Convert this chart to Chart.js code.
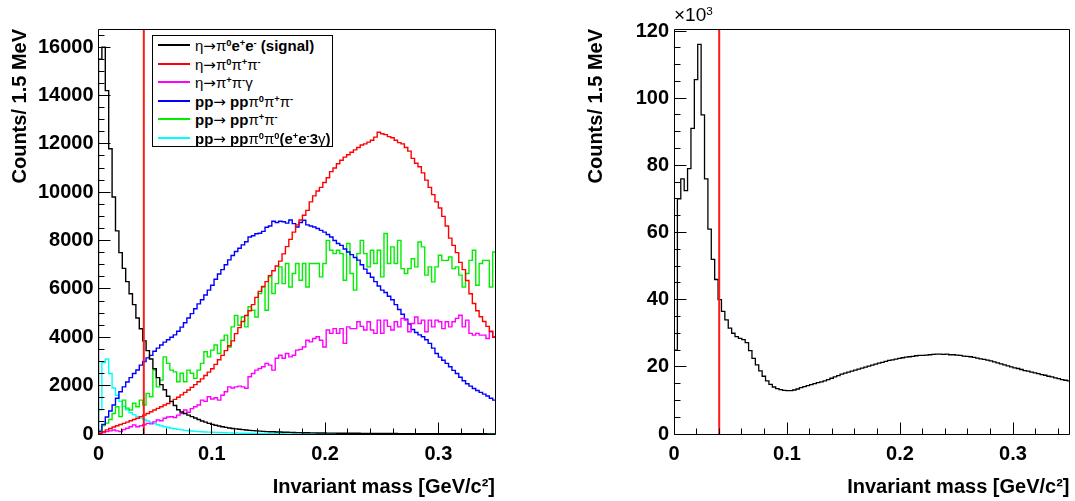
<!DOCTYPE html>
<html>
<head>
<meta charset="utf-8">
<script src="https://cdn.jsdelivr.net/npm/chart.js@4/dist/chart.umd.min.js"></script>
<style>
html,body{margin:0;padding:0;background:#fff;}
#wrap{position:relative;width:1075px;height:501px;overflow:hidden;font-family:"Liberation Sans",Arial,sans-serif;color:#000;}
canvas{position:absolute;left:0;top:0;}
#legend{position:absolute;left:152px;top:35px;width:181px;height:112px;box-sizing:border-box;border:1px solid #000;background:#fff;font-weight:bold;font-size:15px;}
.row{position:absolute;left:0;height:19px;line-height:19px;white-space:nowrap;}
.sw{position:absolute;left:5px;top:8px;width:32px;height:2px;}
.tx{position:absolute;left:42px;top:0;}
.g{font-weight:normal;}
.a{font-weight:normal;font-family:"DejaVu Sans",sans-serif;}
sup{font-size:0.62em;line-height:0;vertical-align:0.5em;}
#mult{position:absolute;left:674px;top:4px;font-size:19px;line-height:22px;}
</style>
</head>
<body>
<div id="wrap">
  <canvas id="cLeft" width="1075" height="501"></canvas>
  <canvas id="cRight" width="1075" height="501"></canvas>
  <div id="legend"></div>
  <div id="mult">×10<sup>3</sup></div>
</div>
<script>
// ---------------- data ----------------
const BIN_WIDTH = 0.003;          // GeV, histogram bin width as drawn
const CUT = 0.04;                 // GeV, red cut line
const xTickValues = [0, 0.1, 0.2, 0.3];
const yTickValuesLeft = [0, 2000, 4000, 6000, 8000, 10000, 12000, 14000, 16000];
const yTickValuesRight = [0, 20, 40, 60, 80, 100, 120];
const X_MAX = 0.35;
const Y_MAX_LEFT = 16750;
const Y_MAX_RIGHT = 120.6;

const seriesNames = [
  "η→π0e+e- (signal)", "η→π0π+π-", "η→π+π-γ",
  "pp→ ppπ0π+π-", "pp→ ppπ+π-", "pp→ ppπ0π0(e+e-3γ)"
];
const legendLabels = [
  '<span class="g">η</span><span class="a">→</span><span class="g">π</span><sup>0</sup>e<sup>+</sup>e<sup>-</sup> (signal)',
  '<span class="g">η</span><span class="a">→</span><span class="g">π</span><sup>0</sup><span class="g">π</span><sup>+</sup><span class="g">π</span><sup>-</sup>',
  '<span class="g">η</span><span class="a">→</span><span class="g">π</span><sup>+</sup><span class="g">π</span><sup>-</sup><span class="g">γ</span>',
  'pp<span class="a">→</span> pp<span class="g">π</span><sup>0</sup><span class="g">π</span><sup>+</sup><span class="g">π</span><sup>-</sup>',
  'pp<span class="a">→</span> pp<span class="g">π</span><sup>+</sup><span class="g">π</span><sup>-</sup>',
  'pp<span class="a">→</span> pp<span class="g">π</span><sup>0</sup><span class="g">π</span><sup>0</sup>(e<sup>+</sup>e<sup>-</sup>3<span class="g">γ</span>)'
];
const seriesColors = ["#000000", "#ff0000", "#ff00ff", "#0000ff", "#00ee00", "#00ffff"];

const signal = [
  15500,16000,14200,11800,9800,8400,7500,6850,6300,5800,
  5350,4800,4350,3850,3450,3100,2700,2330,2040,1830,
  1560,1350,1180,1000,910,850,780,720,660,600,
  540,490,440,400,360,330,300,275,250,230,
  210,195,180,165,150,140,130,120,110,100,
  95,90,85,80,75,70,66,62,58,55,
  52,50,48,46,44,42,40,38,36,35,
  34,33,32,31,30,29,28,27,26,25,
  24,23,22,21,20,20,19,18,17,17,
  16,16,15,15,14,14,13,13,12,12,
  12,11,11,11,10,10,10,9,9,9,
  8,8,8,8,7,7,7
];
const etaPi0PiPi = [
  30,100,170,230,290,340,390,440,490,550,
  600,650,720,780,850,920,990,1060,1130,1200,
  1260,1340,1430,1520,1620,1720,1820,1930,2040,2160,
  2280,2420,2560,2700,2880,3070,3250,3450,3650,3850,
  4150,4400,4650,4900,5100,5350,5650,5900,6100,6300,
  6550,6750,6950,7150,7450,7750,8050,8350,8650,8850,
  9050,9250,9600,9850,10050,10200,10400,10600,10850,11000,
  11180,11320,11450,11550,11650,11750,11850,11950,12000,12070,
  12150,12280,12480,12420,12380,12300,12250,12150,12050,12000,
  11850,11700,11400,11200,11050,10800,10500,10200,9900,9600,
  9350,9000,8600,8100,7800,7500,7100,6800,6350,5800,
  5400,5100,4850,4650,4450,4250,4000
];
const etaPiPiGamma = [
  20,60,100,130,165,130,100,180,235,300,
  370,300,340,380,440,420,500,580,550,650,
  700,715,680,780,850,990,900,1050,1130,1200,
  1400,1350,1540,1450,1500,1400,1600,1750,1950,1900,
  1950,1980,1950,1890,2370,2500,2640,2710,2780,2920,
  2850,2640,3130,3260,3130,3330,3190,3260,3470,3500,
  3600,3880,3810,3950,4020,3880,3600,4300,4160,4360,
  4160,4360,3750,4430,4360,4360,4640,4450,4300,4640,
  4300,4160,4710,4160,4710,4450,4300,4640,4430,4780,
  4710,4230,4570,4840,4570,4710,4230,4710,4430,4710,
  4640,4360,4640,4430,4640,4780,4910,4430,4710,4160,
  4090,4160,4090,4090,3950,4230,4020
];
const ppPi0PiPi = [
  100,400,700,950,1200,1480,1750,1950,2150,2330,
  2500,2650,2850,3000,3150,3250,3420,3550,3680,3800,
  3900,4000,4100,4250,4420,4600,4800,4980,5180,5380,
  5550,5750,5950,6150,6400,6620,6800,7000,7200,7380,
  7550,7680,7820,7950,8150,8200,8280,8300,8380,8550,
  8600,8800,8750,8800,8780,8720,8850,8700,8560,8750,
  8840,8650,8600,8560,8500,8420,8350,8250,8150,8000,
  7880,7800,7650,7530,7420,7300,7190,7000,6820,6650,
  6480,6300,6120,5950,5850,5700,5550,5350,5150,4950,
  4750,4550,4320,4200,4100,4020,3900,3750,3550,3330,
  3180,3050,2920,2780,2630,2500,2350,2200,2080,1980,
  1880,1800,1720,1650,1570,1480,1400
];
const ppPiPi = [
  150,350,450,600,850,1130,720,1400,1070,990,
  1270,1130,1400,1200,1680,1540,2640,1950,2230,3190,
  2920,2640,2570,2160,2510,2160,2640,2510,2300,2640,
  2920,3400,3190,3470,3680,3330,3880,4090,3600,4430,
  4900,4500,4840,4430,5260,5120,4840,5810,6080,5120,
  6500,5810,6220,6910,6220,7050,6080,6640,7050,6360,
  7050,6080,7050,7050,7050,6500,7050,8010,7600,7460,
  7600,7460,6360,7880,6640,5950,7460,8010,7460,6910,
  7600,7050,7600,6500,8290,7050,7740,7050,8010,6840,
  6640,6840,7250,6910,7940,7740,6570,6910,6290,6910,
  7390,7180,7180,7320,6840,6910,6570,6080,6640,7180,
  7600,6150,7050,7180,7180,6080,7530
];
const ppPi0Pi0 = [
  1000,2950,3100,2500,1900,1600,1350,1150,1000,880,
  800,730,660,600,540,480,430,380,340,300,
  270,240,215,190,170,150,135,122,110,100,
  92,85,78,72,66,60,56,52,48,44,
  40,37,34,31,28,25,22,20,18,16,
  14,12,10,9,8,7,6,5,5,4,
  4,3,3,3,2,2,2,2,1,1,
  1,1,1,1,0,0,0,0,0,0,
  0,0,0,0,0,0,0,0,0,0,
  0,0,0,0,0,0,0,0,0,0,
  0,0,0,0,0,0,0,0,0,0,
  0,0,0,0,0,0,0
];
// right panel: all events, in units of 10^3 counts
const totalK = [
  25,70,76,72.5,79,91,105.5,116,95,76,
  61,52,46,40,36.5,34,31.5,30,29,28.5,
  28.1,27.2,24.8,22.5,20.6,18.8,17.2,15.8,14.8,14.0,
  13.5,13.2,13.0,12.9,12.9,13.1,13.4,13.8,14.1,14.4,
  14.7,15.0,15.3,15.5,15.8,16.2,16.6,17.0,17.4,17.8,
  18.1,18.4,18.7,19.0,19.3,19.6,19.9,20.2,20.5,20.8,
  21.1,21.3,21.6,21.9,22.1,22.3,22.5,22.7,22.9,23.0,
  23.1,23.3,23.4,23.4,23.5,23.6,23.7,23.8,23.8,23.7,
  23.8,23.6,23.6,23.5,23.4,23.2,23.1,23.0,22.8,22.6,
  22.4,22.2,22.0,21.8,21.5,21.2,20.9,20.6,20.3,20.0,
  19.7,19.5,19.2,18.9,18.7,18.4,18.2,18.0,17.7,17.5,
  17.2,17.0,16.7,16.5,16.2,16.0,15.8
];

// ---------------- helpers ----------------
function histPoints(values) {
  const pts = [{x: 0, y: 0}];
  values.forEach((v, i) => pts.push({x: i * BIN_WIDTH, y: v}));
  pts.push({x: values.length * BIN_WIDTH, y: values[values.length - 1]});
  return pts;
}
function histDataset(label, values, color, width) {
  return {label, data: histPoints(values), borderColor: color, backgroundColor: color,
    borderWidth: width, pointRadius: 0, stepped: 'before', tension: 0, fill: false};
}
function cutDataset(yMax) {
  return {label: 'cut', data: [{x: CUT, y: 0}, {x: CUT, y: yMax}], borderColor: '#ff1a1a',
    borderWidth: 2, pointRadius: 0, fill: false};
}

const rootFrame = {
  id: 'rootFrame',
  afterDatasetsDraw(chart, args, o) {
    const {ctx, chartArea: a} = chart;
    const xs = chart.scales.x, ys = chart.scales.y;
    const L = Math.floor(a.left) + 0.5, R = Math.floor(a.right) + 0.5;
    const T = Math.floor(a.top) + 0.5, B = Math.floor(a.bottom) + 0.5;
    ctx.save();
    ctx.strokeStyle = '#000';
    ctx.lineWidth = 1;
    ctx.beginPath();
    const nY = Math.floor(ys.max / o.yMinor + 1e-6);
    for (let k = 0; k <= nY; k++) {
      const py = Math.floor(ys.getPixelForValue(k * o.yMinor)) + 0.5;
      const len = (k % o.yPer === 0) ? 12 : 6;
      ctx.moveTo(L, py); ctx.lineTo(L + len, py);
    }
    const nX = Math.floor(xs.max / o.xMinor + 1e-6);
    for (let k = 0; k <= nX; k++) {
      const px = Math.floor(xs.getPixelForValue(k * o.xMinor)) + 0.5;
      const len = (k % o.xPer === 0) ? 12 : 6;
      ctx.moveTo(px, B); ctx.lineTo(px, B - len);
    }
    ctx.rect(L, T, R - L, B - T);
    ctx.stroke();
    ctx.restore();
  }
};

Chart.defaults.font.family = '"Liberation Sans", Arial, sans-serif';
Chart.defaults.color = '#000';

const tickFont = {size: 20, weight: 'bold', lineHeight: 1.2};

function makeOptions(cfg) {
  return {
    responsive: false, animation: false, events: [], devicePixelRatio: 1,
    layout: {padding: cfg.padding},
    plugins: {legend: {display: false}, tooltip: {enabled: false},
      rootFrame: {xMinor: 0.02, xPer: 5, yMinor: cfg.yMinor, yPer: 4}},
    scales: {
      x: {
        type: 'linear', min: 0, max: X_MAX,
        afterBuildTicks: s => { s.ticks = xTickValues.map(v => ({value: v})); },
        afterFit: s => { s.height = 67; },
        grid: {display: false, drawTicks: false}, border: {display: false},
        ticks: {padding: 8, autoSkip: false, maxRotation: 0, font: tickFont, color: '#000',
          callback: v => (v === 0 ? '0' : Number(v).toFixed(1))},
        title: {display: true, text: 'Invariant mass [GeV/c²]', align: 'end', color: '#000',
          font: tickFont, padding: {top: 0, bottom: 1.5}}
      },
      y: {
        type: 'linear', min: 0, max: cfg.yMax,
        afterBuildTicks: s => { s.ticks = cfg.yTicks.map(v => ({value: v})); },
        afterFit: s => { s.width = cfg.yWidth; },
        grid: {display: false, drawTicks: false}, border: {display: false},
        ticks: {padding: 5, autoSkip: false, font: tickFont, color: '#000', callback: v => String(v)},
        title: {display: true, text: 'Counts/ 1.5 MeV', align: 'end', color: '#000',
          font: tickFont, padding: {top: cfg.titlePad, bottom: 0}}
      }
    }
  };
}

const seriesValues = [signal, etaPi0PiPi, etaPiPiGamma, ppPi0PiPi, ppPiPi, ppPi0Pi0];

new Chart(document.getElementById('cLeft'), {
  type: 'line',
  data: {datasets: [cutDataset(Y_MAX_LEFT)].concat(
    seriesValues.map((vals, i) => histDataset(seriesNames[i], vals, seriesColors[i], 1.4)))},
  options: makeOptions({padding: {left: 0.5, top: 29, right: 580, bottom: 0},
    yMax: Y_MAX_LEFT, yTicks: yTickValuesLeft, yMinor: 500, yWidth: 98, titlePad: 7.5}),
  plugins: [rootFrame]
});

new Chart(document.getElementById('cRight'), {
  type: 'line',
  data: {datasets: [cutDataset(Y_MAX_RIGHT), histDataset('all', totalK, '#000000', 1.3)]},
  options: makeOptions({padding: {left: 580, top: 29, right: 5.5, bottom: 0},
    yMax: Y_MAX_RIGHT, yTicks: yTickValuesRight, yMinor: 5, yWidth: 94, titlePad: 4.5}),
  plugins: [rootFrame]
});

// legend (HTML, real text)
const legend = document.getElementById('legend');
legendLabels.forEach((html, i) => {
  const row = document.createElement('div');
  row.className = 'row';
  row.style.top = Math.round(i * 18.6) + 'px';
  row.style.width = '100%';
  row.innerHTML = '<div class="sw" style="background:' + seriesColors[i] + '"></div><div class="tx">' + html + '</div>';
  legend.appendChild(row);
});
</script>
</body>
</html>
